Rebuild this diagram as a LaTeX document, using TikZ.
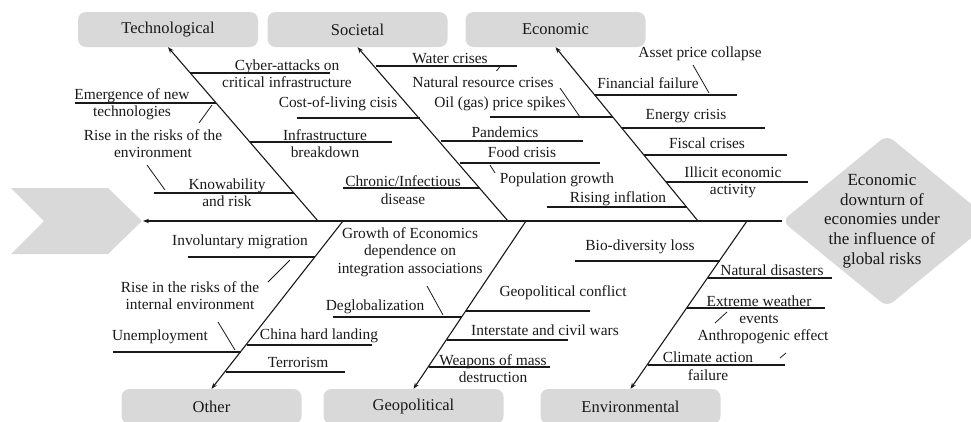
\documentclass[tikz,border=0pt]{standalone}
\usepackage{fontspec}
\setmainfont{Liberation Serif}
\usetikzlibrary{arrows.meta,shapes.geometric}
\definecolor{catgray}{RGB}{217,217,217}
\definecolor{ink}{RGB}{25,25,25}
\tikzset{
  catbox/.style={fill=catgray, rounded corners=8pt, minimum width=180pt, minimum height=35pt, inner sep=0pt, text=ink, font=\fontsize{16.5}{18}\selectfont},
  lbl/.style={inner sep=0pt, align=center, text=ink, font=\fontsize{15.4}{17.5}\selectfont},
  headtxt/.style={inner sep=0pt, align=center, text=ink, font=\fontsize{17}{19.7}\selectfont},
  bone/.style={draw=ink, line width=1.1pt, -{Stealth[length=6pt,width=4.5pt]}},
  spine/.style={draw=ink, line width=1.3pt, -{Stealth[length=6pt,width=4.5pt]}},
  uline/.style={draw=ink, line width=1.1pt},
  tickln/.style={draw=ink, line width=0.8pt},
}
\begin{document}
\begin{tikzpicture}[x=1pt,y=-1pt]
\useasboundingbox (0,0) rectangle (971,421);
% tail chevron
\fill[catgray] (11,188) -- (108,188) -- (142,221) -- (108,254) -- (11,254) -- (44,221) -- cycle;
\coordinate (tailtip) at (143,221);
% head diamond
\node[diamond, fill=catgray, minimum width=210pt, minimum height=172pt, inner sep=0pt, aspect=1.22, rounded corners=8pt] (head) at (887,221) {};
\node[headtxt] (headlbl) at (882,221) {Economic\\downturn of\\economies under\\the influence of\\global risks};
% category boxes
\node[catbox] (tech) at (168,29.5) {Technological};
\node[catbox] (soc) at (357.5,29.5) {Societal};
\node[catbox] (eco) at (555.5,29.5) {Economic};
\node[catbox] (oth) at (211.5,406.5) {Other};
\node[catbox] (geo) at (413.5,406.5) {Geopolitical};
\node[catbox] (env) at (630.5,406.5) {Environmental};
% spine
\draw[spine] (head.west) -- (tailtip);
% bone roots
\coordinate (rtech) at (318,221);
\coordinate (rsoc) at (508,221);
\coordinate (reco) at (698,221);
\coordinate (roth) at (343,221);
\coordinate (rgeo) at (526,221);
\coordinate (renv) at (747,221);
\draw[bone] (rtech) -- (tech.south);
\draw[bone] (rsoc) -- (soc.south);
\draw[bone] (reco) -- (eco.south);
\draw[bone] (roth) -- (oth.north);
\draw[bone] (rgeo) -- (geo.north);
\draw[bone] (renv) -- (env.north);
% ---------- Technological ----------
\node[lbl] (t1) at (287,73.5) {Cyber-attacks on\\critical infrastructure};
\coordinate (t1a) at (189.7,73); \coordinate (t1b) at (330,73);
\draw[uline] (t1a) -- (t1b);
\node[lbl] (t2) at (132,104) {Emergence of new\\technologies};
\coordinate (t2a) at (75,103); \coordinate (t2b) at (215.7,103);
\draw[uline] (t2a) -- (t2b);
\coordinate (k1a) at (199,123); \coordinate (k1b) at (212,105);
\draw[tickln] (k1a) -- (k1b);
\node[lbl] (t3) at (153,143.5) {Rise in the risks of the\\environment};
\coordinate (k2a) at (147,165); \coordinate (k2b) at (165,190);
\draw[tickln] (k2a) -- (k2b);
\node[lbl] (t4) at (227,192.5) {Knowability\\and risk};
\coordinate (t4a) at (154,193); \coordinate (t4b) at (293.7,193);
\draw[uline] (t4a) -- (t4b);
\node[lbl] (t5) at (325,143.5) {Infrastructure\\breakdown};
\coordinate (t5a) at (249.5,142); \coordinate (t5b) at (392,142);
\draw[uline] (t5a) -- (t5b);
% ---------- Societal ----------
\node[lbl] (s1) at (450,59) {Water crises};
\coordinate (s1a) at (376.2,66); \coordinate (s1b) at (517,66);
\draw[uline] (s1a) -- (s1b);
\coordinate (k3a) at (496.5,71); \coordinate (k3b) at (500,66.5);
\draw[tickln] (k3a) -- (k3b);
\node[lbl] (s2) at (483,82) {Natural resource crises};
\coordinate (k4a) at (560,88); \coordinate (k4b) at (580,117);
\draw[tickln] (k4a) -- (k4b);
\node[lbl] (s3) at (500,104) {Oil (gas) price spikes};
\coordinate (s3a) at (490,117); \coordinate (s3b) at (613.1,117);
\draw[uline] (s3a) -- (s3b);
\node[lbl] (s4) at (338,104) {Cost-of-living cisis};
\coordinate (s4a) at (297,118); \coordinate (s4b) at (420.4,118);
\draw[uline] (s4a) -- (s4b);
\node[lbl] (s5) at (505,132) {Pandemics};
\coordinate (s5a) at (441,141); \coordinate (s5b) at (583,141);
\draw[uline] (s5a) -- (s5b);
\node[lbl] (s6) at (522,152) {Food crisis};
\coordinate (s6a) at (459.5,163); \coordinate (s6b) at (600,163);
\draw[uline] (s6a) -- (s6b);
\coordinate (k5a) at (490,165); \coordinate (k5b) at (495,173);
\draw[tickln] (k5a) -- (k5b);
\node[lbl] (s7) at (557,180) {Population growth};
\node[lbl] (s8) at (403,190) {Chronic/Infectious\\disease};
\coordinate (s8a) at (343,188); \coordinate (s8b) at (479.9,188);
\draw[uline] (s8a) -- (s8b);
\node[lbl] (s9) at (618,199) {Rising inflation};
\coordinate (s9a) at (547,207); \coordinate (s9b) at (686.6,207);
\draw[uline] (s9a) -- (s9b);
% ---------- Economic ----------
\node[lbl] (e1) at (700,54) {Asset price collapse};
\coordinate (k6a) at (693,65); \coordinate (k6b) at (709,93);
\draw[tickln] (k6a) -- (k6b);
\node[lbl] (e2) at (648,83) {Financial failure};
\coordinate (e2a) at (595.2,95); \coordinate (e2b) at (737,95);
\draw[uline] (e2a) -- (e2b);
\node[lbl] (e3) at (686,116) {Energy crisis};
\coordinate (e3a) at (622,128); \coordinate (e3b) at (765,128);
\draw[uline] (e3a) -- (e3b);
\node[lbl] (e4) at (707,143) {Fiscal crises};
\coordinate (e4a) at (644,155); \coordinate (e4b) at (787,155);
\draw[uline] (e4a) -- (e4b);
\node[lbl] (e5) at (733,182.5) {Illicit economic\\activity};
\coordinate (e5a) at (666,182); \coordinate (e5b) at (808,182);
\draw[uline] (e5a) -- (e5b);
% ---------- Other ----------
\node[lbl] (o1) at (240,242) {Involuntary migration};
\coordinate (o1a) at (188,257); \coordinate (o1b) at (315,257);
\draw[uline] (o1a) -- (o1b);
\coordinate (k7a) at (290,260); \coordinate (k7b) at (268,282);
\draw[tickln] (k7a) -- (k7b);
\node[lbl] (o2) at (190,295.5) {Rise in the risks of the\\internal environment};
\coordinate (k8a) at (218,322); \coordinate (k8b) at (235,350);
\draw[tickln] (k8a) -- (k8b);
\node[lbl] (o3) at (160,337) {Unemployment};
\coordinate (o3a) at (113,352); \coordinate (o3b) at (241,352);
\draw[uline] (o3a) -- (o3b);
\node[lbl] (o4) at (319,336) {China hard landing};
\coordinate (o4a) at (246.5,345); \coordinate (o4b) at (372,345);
\draw[uline] (o4a) -- (o4b);
\node[lbl] (o5) at (298,362) {Terrorism};
\coordinate (o5a) at (225.5,372); \coordinate (o5b) at (345,372);
\draw[uline] (o5a) -- (o5b);
% ---------- Geopolitical ----------
\node[lbl] (g1) at (410,252) {Growth of Economics\\dependence on\\integration associations};
\coordinate (k9a) at (427,286); \coordinate (k9b) at (443,315);
\draw[tickln] (k9a) -- (k9b);
\node[lbl] (g2) at (375,307) {Deglobalization};
\coordinate (g2a) at (333,317); \coordinate (g2b) at (462,317);
\draw[uline] (g2a) -- (g2b);
\node[lbl] (g3) at (563,293) {Geopolitical conflict};
\coordinate (g3a) at (466,311); \coordinate (g3b) at (590,311);
\draw[uline] (g3a) -- (g3b);
\node[lbl] (g4) at (545,330) {Interstate and civil wars};
\coordinate (g4a) at (447,340); \coordinate (g4b) at (568,340);
\draw[uline] (g4a) -- (g4b);
\node[lbl] (g5) at (493,368.5) {Weapons of mass\\destruction};
\coordinate (g5a) at (429,367); \coordinate (g5b) at (550,367);
\draw[uline] (g5a) -- (g5b);
\node[lbl] (g6) at (640,247) {Bio-diversity loss};
\coordinate (g6a) at (575,261); \coordinate (g6b) at (719.5,261);
\draw[uline] (g6a) -- (g6b);
% ---------- Environmental ----------
\node[lbl] (v1) at (772,270) {Natural disasters};
\coordinate (v1a) at (707.7,278); \coordinate (v1b) at (832,278);
\draw[uline] (v1a) -- (v1b);
\node[lbl] (v2) at (759,309.5) {Extreme weather\\events};
\coordinate (v2a) at (687,308); \coordinate (v2b) at (825,308);
\draw[uline] (v2a) -- (v2b);
\coordinate (k10a) at (715,323); \coordinate (k10b) at (727,312);
\draw[tickln] (k10a) -- (k10b);
\node[lbl] (v3) at (763,337) {Anthropogenic effect};
\coordinate (k11a) at (780,358); \coordinate (k11b) at (786,353);
\draw[tickln] (k11a) -- (k11b);
\node[lbl] (v4) at (708,366) {Climate action\\failure};
\coordinate (v4a) at (648,365); \coordinate (v4b) at (785,365);
\draw[uline] (v4a) -- (v4b);
\end{tikzpicture}
\end{document}
